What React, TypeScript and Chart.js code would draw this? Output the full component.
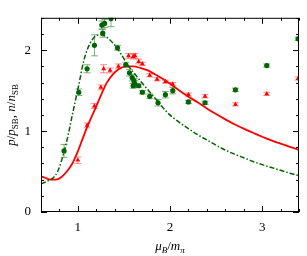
import React, { useEffect, useRef } from "react";
import { Chart, registerables } from "chart.js";

Chart.register(...registerables);

// Model curves
const redCurveX = [0.6, 0.65, 0.7, 0.76, 0.82, 0.88, 0.94, 1.0, 1.05, 1.1, 1.19, 1.25, 1.31, 1.38, 1.45, 1.52, 1.6, 1.68, 1.76, 1.87, 1.97, 2.08, 2.18, 2.3, 2.4, 2.5, 2.6, 2.7, 2.8, 2.9, 3.0, 3.1, 3.2, 3.3, 3.4];
const redCurveY = [0.44, 0.42, 0.40, 0.40, 0.43, 0.50, 0.60, 0.75, 0.90, 1.05, 1.28, 1.44, 1.59, 1.70, 1.77, 1.80, 1.80, 1.78, 1.75, 1.68, 1.61, 1.52, 1.44, 1.355, 1.28, 1.21, 1.145, 1.085, 1.03, 0.98, 0.93, 0.885, 0.845, 0.805, 0.77];

const greenCurveX = [0.6, 0.65, 0.7, 0.73, 0.78, 0.85, 0.9, 0.94, 1.01, 1.06, 1.1, 1.15, 1.2, 1.25, 1.3, 1.38, 1.47, 1.54, 1.6, 1.65, 1.7, 1.76, 1.82, 1.87, 1.92, 1.97, 2.03, 2.08, 2.18, 2.3, 2.4, 2.5, 2.61, 2.7, 2.8, 2.9, 3.0, 3.1, 3.2, 3.3, 3.4];
const greenCurveY = [0.35, 0.37, 0.40, 0.42, 0.50, 0.74, 0.98, 1.20, 1.57, 1.85, 2.00, 2.12, 2.18, 2.19, 2.17, 2.09, 1.95, 1.82, 1.73, 1.66, 1.59, 1.51, 1.43, 1.365, 1.295, 1.23, 1.17, 1.125, 1.045, 0.955, 0.89, 0.825, 0.76, 0.715, 0.67, 0.625, 0.585, 0.55, 0.515, 0.48, 0.45];

// Lattice data points
const greenPtsX = [0.85, 1.01, 1.10, 1.18, 1.26, 1.29, 1.27, 1.36, 1.43, 1.52, 1.56, 1.59, 1.61, 1.62, 1.60, 1.66, 1.70, 1.78, 1.87, 1.95, 2.03, 2.20, 2.38, 2.71, 3.05, 3.39];
const greenPtsY = [0.755, 1.48, 1.77, 2.06, 2.31, 2.33, 2.21, 2.39, 2.03, 1.82, 1.72, 1.66, 1.62, 1.58, 1.56, 1.56, 1.48, 1.43, 1.35, 1.45, 1.50, 1.36, 1.35, 1.51, 1.81, 2.14];
const greenPtsErr = [0.08, 0.04, 0.05, 0.13, 0.05, 0.05, 0.05, 0.1, 0.03, 0.03, 0.04, 0.04, 0.03, 0.04, 0.03, 0.02, 0.02, 0.03, 0.04, 0.04, 0.04, 0.02, 0.02, 0.02, 0.02, 0.02];

const redPtsX = [1.00, 1.10, 1.18, 1.25, 1.28, 1.35, 1.44, 1.55, 1.60, 1.62, 1.66, 1.70, 1.78, 1.86, 1.95, 2.03, 2.20, 2.38, 2.71, 3.05, 3.39];
const redPtsY = [0.64, 1.07, 1.31, 1.54, 1.77, 1.75, 1.80, 1.93, 1.92, 1.93, 1.86, 1.83, 1.69, 1.64, 1.61, 1.58, 1.45, 1.43, 1.33, 1.46, 1.65];
const redPtsErr = [0.04, 0.03, 0.03, 0.03, 0.05, 0.03, 0.03, 0.03, 0.03, 0.03, 0.03, 0.02, 0.02, 0.02, 0.02, 0.02, 0.02, 0.02, 0.02, 0.02, 0.02];

const X_MIN = 0.6, X_MAX = 3.4, Y_MIN = 0, Y_MAX = 2.4, STEP = 0.2;

const RED = "rgb(255,0,0)";
const GREEN = "rgb(0,100,0)";
const FONT = "'Liberation Serif', 'DejaVu Serif', serif";

const zip = (xs: number[], ys: number[]) => xs.map((x, i) => ({ x, y: ys[i] }));
const isInt = (v: number) => Math.abs(v - Math.round(v)) < 1e-6;

const errorBars = {
  id: "errorBars",
  beforeDatasetsDraw(chart: any) {
    const { ctx, chartArea } = chart;
    const xs = chart.scales.x, ys = chart.scales.y;
    ctx.save();
    ctx.beginPath();
    ctx.rect(chartArea.left, chartArea.top, chartArea.right - chartArea.left, chartArea.bottom - chartArea.top);
    ctx.clip();
    chart.data.datasets.forEach((ds: any) => {
      if (!ds.errs) return;
      ctx.strokeStyle = ds.errColor;
      ctx.lineWidth = 1;
      ds.data.forEach((p: any, i: number) => {
        const e = ds.errs[i];
        const px = xs.getPixelForValue(p.x);
        const y1 = ys.getPixelForValue(p.y - e);
        const y2 = ys.getPixelForValue(p.y + e);
        ctx.beginPath();
        ctx.moveTo(px, y1);
        ctx.lineTo(px, y2);
        ctx.moveTo(px - 3.5, y1);
        ctx.lineTo(px + 3.5, y1);
        ctx.moveTo(px - 3.5, y2);
        ctx.lineTo(px + 3.5, y2);
        ctx.stroke();
      });
    });
    ctx.restore();
  },
};

const frameAndTicks = {
  id: "frameAndTicks",
  afterDraw(chart: any) {
    const { ctx, chartArea } = chart;
    const { left, right, top, bottom } = chartArea;
    const xs = chart.scales.x, ys = chart.scales.y;
    ctx.save();
    ctx.strokeStyle = "#000";
    ctx.lineWidth = 1;
    ctx.strokeRect(left + 0.5, top + 0.5, right - left - 1, bottom - top - 1);
    ctx.beginPath();
    const nx = Math.round((X_MAX - X_MIN) / STEP);
    for (let i = 0; i <= nx; i++) {
      const v = X_MIN + i * STEP;
      const len = isInt(v) ? 6 : 3;
      const px = Math.round(xs.getPixelForValue(v)) + 0.5;
      ctx.moveTo(px, bottom);
      ctx.lineTo(px, bottom - len);
      ctx.moveTo(px, top);
      ctx.lineTo(px, top + len);
    }
    const ny = Math.round((Y_MAX - Y_MIN) / STEP);
    for (let i = 0; i <= ny; i++) {
      const v = Y_MIN + i * STEP;
      const len = isInt(v) ? 6 : 3;
      const py = Math.round(ys.getPixelForValue(v)) + 0.5;
      ctx.moveTo(left, py);
      ctx.lineTo(left + len, py);
      ctx.moveTo(right, py);
      ctx.lineTo(right - len, py);
    }
    ctx.stroke();

    // axis titles with subscripts
    const drawParts = (parts: [string, string, number][], cx: number, cy: number, rotate: boolean) => {
      ctx.save();
      ctx.translate(cx, cy);
      if (rotate) ctx.rotate(-Math.PI / 2);
      let total = 0;
      parts.forEach(([t, f]) => {
        ctx.font = f;
        total += ctx.measureText(t).width;
      });
      let x = -total / 2;
      ctx.fillStyle = "#000";
      ctx.textBaseline = "alphabetic";
      parts.forEach(([t, f, dy]) => {
        ctx.font = f;
        ctx.fillText(t, x, dy);
        x += ctx.measureText(t).width;
      });
      ctx.restore();
    };
    const it = `italic 13px ${FONT}`;
    const up = `13px ${FONT}`;
    const sub = `9px ${FONT}`;
    const subIt = `italic 9px ${FONT}`;
    drawParts(
      [["p", it, 0], ["/", up, 0], ["p", it, 0], ["SB", sub, 3], [", ", up, 0], ["n", it, 0], ["/", up, 0], ["n", it, 0], ["SB", sub, 3]],
      15, (top + bottom) / 2, true
    );
    drawParts(
      [["μ", it, 0], ["B", subIt, 3], ["/", up, 0], ["m", it, 0], ["π", subIt, 3]],
      (left + right) / 2, 250, false
    );
    ctx.restore();
  },
};

export default function App() {
  const ref = useRef<HTMLCanvasElement | null>(null);
  useEffect(() => {
    if (!ref.current) return;
    const chart = new Chart(ref.current, {
      type: "scatter",
      data: {
        datasets: [
          {
            data: zip(redCurveX, redCurveY),
            showLine: true,
            borderColor: RED,
            borderWidth: 1.8,
            pointRadius: 0,
            cubicInterpolationMode: "monotone",
            order: 3,
          } as any,
          {
            data: zip(greenCurveX, greenCurveY),
            showLine: true,
            borderColor: GREEN,
            borderWidth: 1.5,
            borderDash: [5, 2, 1.5, 2],
            pointRadius: 0,
            cubicInterpolationMode: "monotone",
            order: 2,
          } as any,
          {
            data: zip(redPtsX, redPtsY),
            errs: redPtsErr,
            errColor: "rgba(255,0,0,0.45)",
            pointStyle: "triangle",
            pointRadius: 2.8,
            backgroundColor: RED,
            borderColor: RED,
            borderWidth: 0,
            order: 1,
          } as any,
          {
            data: zip(greenPtsX, greenPtsY),
            errs: greenPtsErr,
            errColor: "rgba(0,100,0,0.5)",
            pointStyle: "circle",
            pointRadius: 2.6,
            backgroundColor: GREEN,
            borderColor: GREEN,
            borderWidth: 0,
            order: 0,
          } as any,
        ],
      },
      options: {
        animation: false,
        responsive: false,
        maintainAspectRatio: false,
        layout: { padding: { top: 2, right: 2, left: 0, bottom: 0 } },
        plugins: { legend: { display: false }, tooltip: { enabled: false } },
        scales: {
          x: {
            type: "linear",
            min: X_MIN,
            max: X_MAX,
            grid: { display: false, drawTicks: false },
            border: { display: false },
            ticks: {
              stepSize: STEP,
              autoSkip: false,
              maxRotation: 0,
              padding: 8,
              color: "#000",
              font: { family: FONT, size: 13 },
              callback: (v: any) => (isInt(Number(v)) ? String(Math.round(Number(v))) : ""),
            },
            afterFit: (s: any) => { s.height = 44; },
          },
          y: {
            type: "linear",
            min: Y_MIN,
            max: Y_MAX,
            grid: { display: false, drawTicks: false },
            border: { display: false },
            ticks: {
              stepSize: STEP,
              autoSkip: false,
              padding: 10,
              color: "#000",
              font: { family: FONT, size: 13 },
              callback: (v: any) => (isInt(Number(v)) ? String(Math.round(Number(v))) : ""),
            },
            afterFit: (s: any) => { s.width = 41; },
          },
        },
      },
      plugins: [errorBars, frameAndTicks],
    } as any);
    return () => chart.destroy();
  }, []);
  return (
    <div style={{ position: "fixed", left: 0, top: 0, width: 307, height: 256, background: "#fff" }}>
      <canvas ref={ref} width={307} height={256} />
    </div>
  );
}
